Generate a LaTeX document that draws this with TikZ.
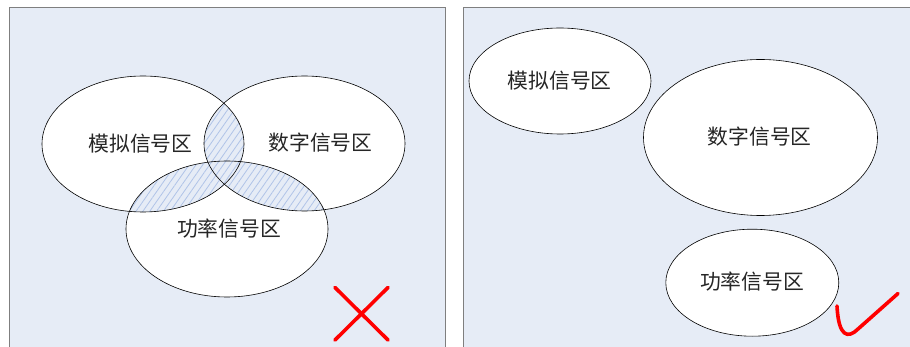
\documentclass[tikz,border=0pt]{standalone}
\usepackage{fontspec}
\newfontfamily\cjk{Noto Sans CJK SC}
\usetikzlibrary{shapes.geometric,patterns.meta}
\definecolor{panel}{HTML}{E6ECF6}
\definecolor{pborder}{HTML}{7F7F7F}
\definecolor{hatch}{HTML}{B0C4E8}
\begin{document}
\begin{tikzpicture}[x=1pt,y=-1pt,
  panelbox/.style={draw=pborder, fill=panel, line width=0.9pt},
  region/.style={ellipse, draw=black, line width=0.6pt, inner sep=0pt},
  whitefill/.style={fill=white},
  hatchfill/.style={preaction={fill=panel}, pattern={Lines[angle=55,distance=5.6pt,line width=0.8pt]}, pattern color=hatch},
  lbl/.style={font=\cjk\fontsize{20.8}{24}\selectfont, text=black!85, inner sep=0pt},
  redmark/.style={draw=red, line width=3.6pt, line cap=round, line join=round}
]
\useasboundingbox (0,0) rectangle (910,347);
\clip (0,0) rectangle (910,347);
\fill[white] (0,0) rectangle (910,347);

% panels
\draw[panelbox] (9.5,7.5) rectangle (445.5,360);
\draw[panelbox] (463.5,7.5) rectangle (930,360);

% ---- left panel: overlapping regions ----
\fill[whitefill] (143,144) ellipse [x radius=101, y radius=68];
\fill[whitefill] (304.5,143.5) ellipse [x radius=100.5, y radius=67.5];
\fill[whitefill] (227,229) ellipse [x radius=101, y radius=68];

\begin{scope}
  \clip (143,144) ellipse [x radius=101, y radius=68];
  \path[hatchfill] (304.5,143.5) ellipse [x radius=100.5, y radius=67.5];
\end{scope}
\begin{scope}
  \clip (143,144) ellipse [x radius=101, y radius=68];
  \path[hatchfill] (227,229) ellipse [x radius=101, y radius=68];
\end{scope}
\begin{scope}
  \clip (304.5,143.5) ellipse [x radius=100.5, y radius=67.5];
  \path[hatchfill] (227,229) ellipse [x radius=101, y radius=68];
\end{scope}

\node[region, minimum width=202pt, minimum height=136pt] (La) at (143,144) {};
\node[region, minimum width=201pt, minimum height=135pt] (Lb) at (304.5,143.5) {};
\node[region, minimum width=202pt, minimum height=136pt] (Lc) at (227,229) {};

\node[lbl] (La-t) at (140.5,143.5) {模拟信号区};
\node[lbl] (Lb-t) at (320.5,143) {数字信号区};
\node[lbl] (Lc-t) at (229,229) {功率信号区};

% red cross
\draw[redmark] (335,287.5) -- (388,340);
\draw[redmark] (335,340) -- (388,287.5);

% ---- right panel: separated regions ----
\node[region, whitefill, minimum width=182pt, minimum height=106pt] (Ra) at (560,81) {};
\node[region, whitefill, minimum width=234pt, minimum height=156pt] (Rb) at (760.5,137.5) {};
\node[region, whitefill, minimum width=173pt, minimum height=107pt] (Rc) at (752.3,282.7) {};

\node[lbl] (Ra-t) at (559.7,80.5) {模拟信号区};
\node[lbl] (Rb-t) at (759.7,136.7) {数字信号区};
\node[lbl] (Rc-t) at (752,281.7) {功率信号区};

% red check mark
\draw[redmark] (837,306) .. controls (838.5,337) and (848,339) .. (858,329) -- (898,293.5);
\end{tikzpicture}
\end{document}
